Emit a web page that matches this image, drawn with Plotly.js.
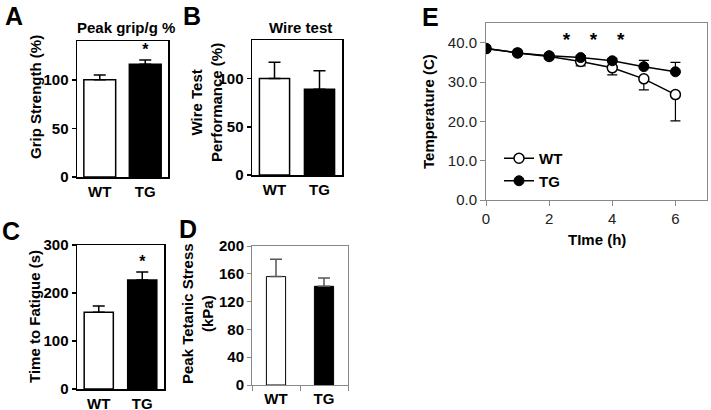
<!DOCTYPE html>
<html>
<head>
<meta charset="utf-8">
<script src="https://cdn.plot.ly/plotly-3.0.1.min.js"></script>
<style>
  html, body { margin: 0; padding: 0; background: #fff; }
  #chart { width: 711px; height: 410px; }
</style>
</head>
<body>
<div id="chart"></div>
<script>
// Values
const groups = ['WT', 'TG'];

const gripMean = [100, 116];
const gripErr = [5, 4.5];

const wireMean = [100, 89];
const wireErr = [17, 19];

const fatigueMean = [160, 227];
const fatigueErr = [13, 17];

const stressMean = [156, 142];
const stressErr = [25, 12];

const hours = [0, 1, 2, 3, 4, 5, 6];
const wtTemp = [38.5, 37.4, 36.5, 35.2, 33.6, 30.8, 26.8];
const wtErr = [0.3, 0.3, 0.4, 1.1, 1.8, 2.8, 6.7];
const tgTemp = [38.5, 37.4, 36.7, 36.2, 35.4, 33.9, 32.6];
const tgErr = [0.3, 0.3, 0.3, 0.5, 0.6, 1.6, 2.4];

// significance marks
const gripStar = [130];
const fatigueStar = [263];
const starHours = [2.55, 3.4, 4.27];
const starTemp = [40.4, 40.4, 40.4];

const FONT = 'Liberation Sans, Arial, sans-serif';
const bold = (size, color = '#000') => ({ family: FONT, size: size, color: color, weight: 'bold' });

// one bar trace per panel, error bars only upward
function barTrace(means, errs, ax, outline, errColor, lineW) {
  return {
    type: 'bar',
    x: groups,
    y: means,
    xaxis: 'x' + ax,
    yaxis: 'y' + ax,
    marker: { color: ['#ffffff', '#000000'], line: { color: outline, width: lineW } },
    error_y: {
      type: 'data', symmetric: false,
      array: errs, arrayminus: errs.map(() => 0),
      color: errColor, thickness: 1.5, width: 6
    },
    showlegend: false,
    hoverinfo: 'skip'
  };
}

function starTrace(x, y, ax, size) {
  return {
    type: 'scatter', mode: 'text',
    x: x, y: y, text: x.map(() => '*'),
    textfont: bold(size),
    xaxis: 'x' + ax, yaxis: 'y' + ax,
    showlegend: false, hoverinfo: 'skip'
  };
}

const barA = barTrace(gripMean, gripErr, '', '#000', '#000', 1.5);
barA.width = 0.7;
const barB = barTrace(wireMean, wireErr, '2', '#000', '#000', 1.5);
barB.width = 0.67;
const barC = barTrace(fatigueMean, fatigueErr, '3', '#000', '#000', 1.5);
barC.width = 0.67;
const barD = barTrace(stressMean, stressErr, '4', '#000', '#555', 1);
barD.width = 0.4;

const starA = starTrace(['TG'], gripStar, '', 16);
const starC = starTrace(['TG'], fatigueStar, '3', 16);

const wtLine = {
  type: 'scatter', mode: 'lines+markers', name: 'WT',
  x: hours, y: wtTemp, xaxis: 'x5', yaxis: 'y5',
  line: { color: '#000', width: 1.5 },
  marker: { size: 10, color: '#fff', line: { color: '#000', width: 1.5 } },
  error_y: { type: 'data', symmetric: false, array: wtErr.map(() => 0), arrayminus: wtErr,
             color: '#000', thickness: 1.2, width: 5 }
};
const tgLine = {
  type: 'scatter', mode: 'lines+markers', name: 'TG',
  x: hours, y: tgTemp, xaxis: 'x5', yaxis: 'y5',
  line: { color: '#000', width: 1.5 },
  marker: { size: 10, color: '#000', line: { color: '#000', width: 1 } },
  error_y: { type: 'data', symmetric: false, array: tgErr, arrayminus: tgErr.map(() => 0),
             color: '#000', thickness: 1.2, width: 5 }
};
const starE = starTrace(starHours, starTemp, '5', 19);

// paper coordinates from pixel boxes
const W = 711, H = 410;
const dx = (a, b) => [a / W, b / W];
const dy = (top, bottom) => [1 - bottom / H, 1 - top / H];

function catAxis(domain, anchor, color, width) {
  return {
    domain: domain, anchor: anchor, type: 'category',
    range: [-0.5, 1.5], showline: true, linecolor: color, linewidth: width,
    mirror: true, ticks: '', showgrid: false, zeroline: false,
    tickfont: bold(15), fixedrange: true
  };
}
function valAxis(domain, anchor, range, dtick, color, width) {
  return {
    domain: domain, anchor: anchor, range: range, dtick: dtick,
    showline: true, linecolor: color, linewidth: width, mirror: true,
    ticks: 'outside', ticklen: 4, tickwidth: width, tickcolor: color,
    showgrid: false, zeroline: false, tickfont: bold(15), fixedrange: true
  };
}

const xD = catAxis(dx(252, 348), 'y4', '#888', 1);
xD.ticks = 'outside'; xD.tickson = 'boundaries'; xD.ticklen = 5; xD.tickcolor = '#888';

const annotations = [];
function note(text, x, y, font, angle) {
  annotations.push({
    text: text, x: x / W, y: 1 - y / H, xref: 'paper', yref: 'paper',
    showarrow: false, font: font, textangle: angle || 0,
    xanchor: 'center', yanchor: 'middle'
  });
}
// panel letters
note('A', 14, 16, bold(25));
note('B', 192, 16, bold(25));
note('C', 11, 231, bold(25));
note('D', 188, 229, bold(25));
note('E', 430, 17, bold(25));
// panel titles
note('Peak grip/g %', 126, 27, bold(15));
note('Wire test', 300, 27, bold(15));
// axis titles
note('Grip Strength (%)', 35, 97, bold(15), -90);
note('Wire Test<br>Performance (%)', 206, 103, bold(15), -90);
note('Time to Fatigue (s)', 34, 317, bold(15), -90);
note('Peak Tetanic Stress<br>(kPa)', 197, 314, bold(15), -90);
note('Temperature (C)', 428, 112, bold(15), -90);
note('TIme (h)', 597, 240, bold(15));

const layout = {
  width: W, height: H,
  margin: { t: 0, l: 0, r: 0, b: 0 },
  paper_bgcolor: '#fff', plot_bgcolor: '#fff',
  font: { family: FONT, color: '#000' },
  showlegend: true,
  legend: {
    x: 499 / W, y: 1 - 142 / H, xanchor: 'left', yanchor: 'top',
    bgcolor: 'rgba(0,0,0,0)', font: bold(15), itemwidth: 30,
    tracegroupgap: 0
  },
  xaxis: catAxis(dx(77, 168), 'y', '#000', 1.5),
  yaxis: valAxis(dy(41, 177), 'x', [0, 140], 50, '#000', 1.5),
  xaxis2: catAxis(dx(252, 342), 'y2', '#000', 1.5),
  yaxis2: valAxis(dy(40, 175), 'x2', [0, 140], 50, '#000', 1.5),
  xaxis3: catAxis(dx(77, 164), 'y3', '#000', 1.5),
  yaxis3: valAxis(dy(245, 389), 'x3', [0, 300], 100, '#000', 1.5),
  xaxis4: xD,
  yaxis4: valAxis(dy(246, 385), 'x4', [0, 200], 40, '#888', 1),
  xaxis5: {
    domain: dx(486, 707), anchor: 'y5', range: [0, 7], dtick: 2,
    showline: true, linecolor: '#888', linewidth: 1, mirror: true,
    ticks: 'outside', ticklen: 5, tickcolor: '#888',
    showgrid: false, zeroline: false,
    tickfont: { family: FONT, size: 15, color: '#222' }
  },
  yaxis5: {
    domain: dy(23, 200), anchor: 'x5', range: [0, 45], tickvals: [0, 10, 20, 30, 40],
    tickformat: '.1f',
    showline: true, linecolor: '#888', linewidth: 1, mirror: true,
    ticks: 'outside', ticklen: 5, tickcolor: '#888',
    showgrid: false, zeroline: false,
    tickfont: { family: FONT, size: 15, color: '#222' }
  },
  annotations: annotations
};

Plotly.newPlot('chart',
  [barA, starA, barB, barC, starC, barD, wtLine, tgLine, starE],
  layout,
  { displayModeBar: false, staticPlot: true });
</script>
</body>
</html>
